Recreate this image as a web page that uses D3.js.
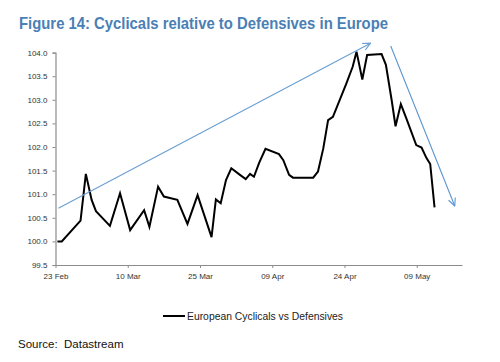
<!DOCTYPE html>
<html>
<head>
<meta charset="utf-8">
<script src="https://cdn.jsdelivr.net/npm/d3@7"></script>
<style>
  html, body { margin: 0; padding: 0; background: #ffffff; }
  svg { display: block; }
</style>
</head>
<body>
<svg id="chart" width="500" height="362"></svg>
<script>
// ---- Data ----
const startDate = "2011-02-23";
// day offsets from start date for each vertex of the line
const dayOffsets = [0.4, 1.3, 5.2, 6.3, 7.5, 8.4, 11.3, 13.4, 15.5, 18.4, 19.5, 21.3, 22.5, 25.3, 27.4, 29.5,
  32.4, 33.3, 34.3, 35.4, 36.5, 38.3, 39.5, 40.4, 41.2, 42.3, 43.6, 46.4, 47.3, 48.5, 49.3, 53.5,
  54.5, 55.6, 56.6, 57.6, 60.4, 61.7, 62.5, 63.7, 64.7, 67.7, 68.6, 69.8, 70.6, 71.7, 72.9, 74.9,
  76.0, 77.0, 77.8, 78.7];
const cyclicalsVsDefensives = [100.00, 100.00, 100.44, 101.43, 100.88, 100.64, 100.33, 101.02, 100.24, 100.66,
  100.31, 101.16, 100.95, 100.88, 100.37, 100.98, 100.09, 100.89, 100.81, 101.30, 101.55, 101.41, 101.32,
  101.43, 101.37, 101.67, 101.96, 101.85, 101.72, 101.41, 101.35, 101.35, 101.48, 101.97, 102.57, 102.64,
  103.35, 103.70, 104.02, 103.43, 103.95, 103.97, 103.74, 102.99, 102.44, 102.91, 102.59, 102.04, 101.99,
  101.77, 101.64, 100.72];
const xTickLabels = ["23 Feb", "10 Mar", "25 Mar", "09 Apr", "24 Apr", "09 May"];
const xTickDays = [0, 15, 30, 45, 60, 75];
const yTicks = [99.5, 100.0, 100.5, 101.0, 101.5, 102.0, 102.5, 103.0, 103.5, 104.0];
const xDomainDays = [0, 84.4];
const yDomain = [99.5, 104.0];
// annotation arrows: [startDay, startValue, endDay, endValue]
const arrowUp = [0.6, 100.70, 65.4, 104.20];
const arrowDown = [69.6, 104.14, 82.9, 100.75];
const seriesName = "European Cyclicals vs Defensives";
const titleText = "Figure 14: Cyclicals relative to Defensives in Europe";
const sourceText = "Source:\u00a0 Datastream";

// ---- Helpers ----
const t0 = new Date(startDate + "T00:00:00");
const toDate = d => new Date(t0.getTime() + d * 86400000);
const data = dayOffsets.map((d, i) => ({ date: toDate(d), value: cyclicalsVsDefensives[i] }));

const svg = d3.select("#chart");
const x = d3.scaleTime().domain(xDomainDays.map(toDate)).range([55.5, 462]);
const y = d3.scaleLinear().domain(yDomain).range([265, 52.6]);

// Title
svg.append("text")
  .attr("x", 19).attr("y", 29)
  .attr("font-family", "'Liberation Sans Narrow', 'Arial Narrow', 'Liberation Sans', Arial, sans-serif")
  .attr("font-weight", "bold")
  .attr("font-size", 16.5)
  .attr("fill", "#4a7fb5")
  .attr("textLength", 369)
  .attr("lengthAdjust", "spacingAndGlyphs")
  .text(titleText);

// Axes
const axisColor = "#8c8c8c";
const yAxis = d3.axisLeft(y).tickValues(yTicks).tickFormat(d3.format(".1f")).tickSize(3).tickPadding(5);
const gy = svg.append("g").attr("transform", "translate(55.5,0)").call(yAxis);
gy.select(".domain").attr("stroke", axisColor).attr("stroke-width", 1.2);
gy.selectAll(".tick line").attr("stroke", axisColor);
gy.selectAll(".tick text")
  .attr("font-family", "'Liberation Sans', Arial, sans-serif")
  .attr("font-size", 8).attr("fill", "#333");

const xAxis = d3.axisBottom(x).tickValues(xTickDays.map(toDate))
  .tickFormat((d, i) => xTickLabels[i]).tickSizeInner(3).tickSizeOuter(0).tickPadding(5);
const gx = svg.append("g").attr("transform", "translate(0,265)").call(xAxis);
gx.select(".domain").attr("stroke", axisColor).attr("stroke-width", 1.2);
gx.selectAll(".tick line").attr("stroke", axisColor);
gx.selectAll(".tick text")
  .attr("font-family", "'Liberation Sans', Arial, sans-serif")
  .attr("font-size", 8).attr("fill", "#333");

// Arrow marker
const defs = svg.append("defs");
function marker(id, color) {
  defs.append("marker")
    .attr("id", id).attr("viewBox", "0 0 10 10").attr("refX", 9.5).attr("refY", 5)
    .attr("markerWidth", 9).attr("markerHeight", 9).attr("markerUnits", "userSpaceOnUse")
    .attr("orient", "auto")
    .append("path").attr("d", "M1,1 L9.5,5 L1,9")
    .attr("fill", "none").attr("stroke", color).attr("stroke-width", 1.2);
}
marker("arrUp", "#6a9fd3");
marker("arrDown", "#5b95cf");

function drawArrow(a, id, color) {
  svg.append("line")
    .attr("x1", x(toDate(a[0]))).attr("y1", y(a[1]))
    .attr("x2", x(toDate(a[2]))).attr("y2", y(a[3]))
    .attr("stroke", color).attr("stroke-width", 1.1)
    .attr("marker-end", `url(#${id})`);
}

// Series line
const line = d3.line().x(d => x(d.date)).y(d => y(d.value));
svg.append("path").datum(data)
  .attr("d", line)
  .attr("fill", "none")
  .attr("stroke", "#000")
  .attr("stroke-width", 2)
  .attr("stroke-linejoin", "miter");

drawArrow(arrowUp, "arrUp", "#6a9fd3");
drawArrow(arrowDown, "arrDown", "#5b95cf");

// Legend
svg.append("line").attr("x1", 163).attr("x2", 185).attr("y1", 316).attr("y2", 316)
  .attr("stroke", "#000").attr("stroke-width", 2);
svg.append("text").attr("x", 187).attr("y", 320)
  .attr("font-family", "'Liberation Sans', Arial, sans-serif")
  .attr("font-size", 10).attr("fill", "#222")
  .attr("textLength", 156).attr("lengthAdjust", "spacingAndGlyphs")
  .text(seriesName);

// Source
svg.append("text").attr("x", 18).attr("y", 348)
  .attr("font-family", "'Liberation Sans', Arial, sans-serif")
  .attr("font-size", 11.5).attr("fill", "#111")
  .text(sourceText);
</script>
</body>
</html>
